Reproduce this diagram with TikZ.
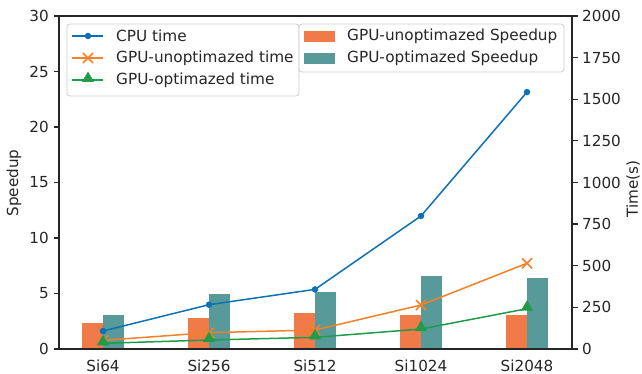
\documentclass[tikz,border=0pt]{standalone}
\usepackage{fontspec}
\setmainfont{DejaVu Sans}
\usetikzlibrary{shapes.geometric,calc}
\definecolor{txt}{HTML}{262626}
\definecolor{cpu}{HTML}{0C72B5}
\definecolor{gun}{HTML}{F58025}
\definecolor{gop}{HTML}{1E9C48}
\definecolor{barun}{HTML}{F07A48}
\definecolor{barop}{HTML}{589A9A}
\definecolor{frame}{HTML}{CCCCCC}
\tikzset{
  axisline/.style={draw=txt, line width=1.25pt},
  tickline/.style={draw=txt, line width=1.25pt},
  ticklab/.style={inner sep=0pt, text=txt, font=\fontsize{15.2}{18}\selectfont},
  axlab/.style={inner sep=0pt, text=txt, font=\fontsize{15.2}{18}\selectfont, rotate=90},
  leglab/.style={inner sep=0pt, anchor=west, text=txt, font=\fontsize{15.3}{18}\selectfont},
  legframe/.style={draw=frame, fill=white, fill opacity=0.8, line width=0.8pt, rounded corners=3pt},
  dotmark/.style={circle, fill=cpu, inner sep=0pt, minimum size=6.5pt},
  trimark/.style={regular polygon, regular polygon sides=3, fill=gop, inner sep=0pt, minimum size=14pt},
  serline/.style={line width=1.5pt},
}
\begin{document}
\begin{tikzpicture}[x=1pt,y=-1pt]
\useasboundingbox (0,0) rectangle (642,374);
\fill[white] (0,0) rectangle (642,374);
% bars
\foreach \s [count=\i from 0] in {2.34,2.80,3.24,3.06,3.06}
  \fill[barun] ({103+106*\i-21.2},349) rectangle ({103+106*\i},{349-11.1*\s});
\foreach \s [count=\i from 0] in {3.06,4.95,5.13,6.58,6.40}
  \fill[barop] ({103+106*\i},349) rectangle ({103+106*\i+21.2},{349-11.1*\s});
% series coordinates
\foreach \t [count=\i from 0] in {108,266,358,799,1543}
  \coordinate (c\i) at ({103+106*\i},{349-0.1665*\t});
\foreach \t [count=\i from 0] in {52,98,114,264,515}
  \coordinate (u\i) at ({103+106*\i},{349-0.1665*\t});
\foreach \t [count=\i from 0] in {34,54,70,120,242}
  \coordinate (o\i) at ({103+106*\i},{349-0.1665*\t});
\draw[serline, cpu] (c0) -- (c1) -- (c2) -- (c3) -- (c4);
\draw[serline, gun] (u0) -- (u1) -- (u2) -- (u3) -- (u4);
\draw[serline, gop] (o0) -- (o1) -- (o2) -- (o3) -- (o4);
\foreach \i in {0,...,4}{
  \node[dotmark] (cm\i) at (c\i) {};
  \draw[gun, line width=1.5pt] ($(u\i)+(-5,-5)$) -- ($(u\i)+(5,5)$) ($(u\i)+(-5,5)$) -- ($(u\i)+(5,-5)$);
  \node[trimark] (om\i) at ($(o\i)+(0,-1.5)$) {};
}
% axes
\draw[axisline] (59,16) rectangle (572,349);
\foreach \v [count=\k from 0] in {0,5,10,15,20,25,30}{
  \draw[tickline] (59,{349-11.1*\v}) -- (53.5,{349-11.1*\v});
  \node[ticklab, anchor=east] (yl\k) at (49,{349-11.1*\v}) {\v};
}
\foreach \v [count=\k from 0] in {0,250,500,750,1000,1250,1500,1750,2000}{
  \draw[tickline] (572,{349-0.1665*\v}) -- (577.5,{349-0.1665*\v});
  \node[ticklab, anchor=west] (tl\k) at (582,{349-0.1665*\v}) {\v};
}
\foreach \n [count=\i from 0] in {Si64,Si256,Si512,Si1024,Si2048}
  \node[ticklab, anchor=base] (xl\i) at ({103+106*\i},371) {\n};
\node[axlab] (ylab) at (14,183) {Speedup};
\node[axlab] (tlab) at (633,189) {Time(s)};
% legend 1
\draw[legframe] (67,24) rectangle (299,96);
\draw[serline, cpu] (72,36) -- (103,36);
\node[dotmark] (l1m) at (88,36) {};
\node[leglab] (l1) at (116,36) {CPU time};
\draw[serline, gun] (72,58) -- (103,58);
\draw[gun, line width=1.5pt] (83,53) -- (93,63) (83,63) -- (93,53);
\node[leglab] (l2) at (116,58) {GPU-unoptimazed time};
\draw[serline, gop] (72,80) -- (103,80);
\node[trimark] (l3m) at (88,78.5) {};
\node[leglab] (l3) at (116,80) {GPU-optimazed time};
% legend 2
\draw[legframe] (299,24) rectangle (564,72);
\fill[barun] (304,31) rectangle (335,42);
\node[leglab] (l4) at (347,36) {GPU-unoptimazed Speedup};
\fill[barop] (304,53) rectangle (335,64);
\node[leglab] (l5) at (347,58) {GPU-optimazed Speedup};
\end{tikzpicture}
\end{document}
